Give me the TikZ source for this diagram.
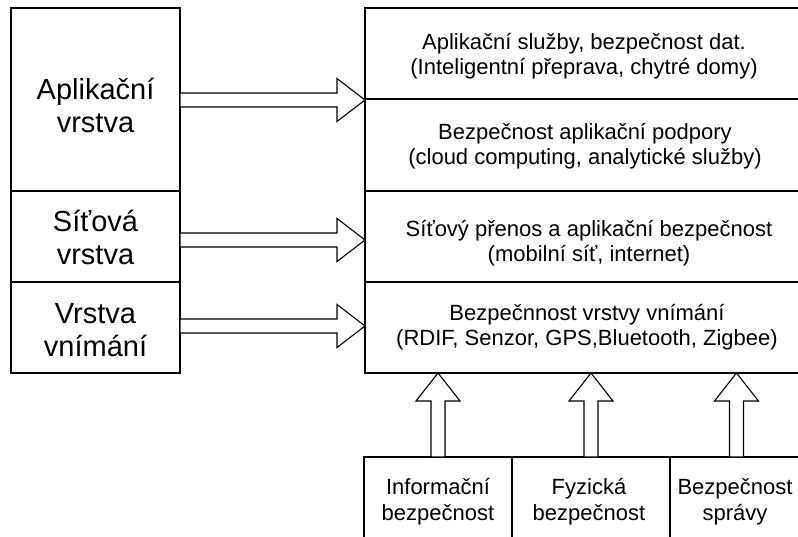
\documentclass[tikz,border=0pt]{standalone}
\usepackage{fontspec}
\setmainfont{Liberation Sans}
\usetikzlibrary{calc}
\newcommand\rarrow[3]{\draw[blk] let \p1=(#1.east), \p2=(#2.west) in
  (\x1,\y1+#3+7) -- (\x2-28,\y1+#3+7) -- (\x2-28,\y1+#3+21.5) -- (\x2,\y1+#3)
  -- (\x2-28,\y1+#3-21.5) -- (\x2-28,\y1+#3-7) -- (\x1,\y1+#3-7) -- cycle;}
\begin{document}
\begin{tikzpicture}[x=1pt,y=-1pt,line width=1.1pt,
  box/.style={draw,inner sep=0pt,outer sep=0pt},
  blk/.style={draw,fill=white,line width=1.1pt,line join=miter},
  big/.style={align=center,anchor=base,font=\fontsize{29}{33.2}\selectfont},
  small/.style={align=center,anchor=base,font=\fontsize{22}{25.3}\selectfont}]
\useasboundingbox (0,0) rectangle (798,537);
\clip (0,0) rectangle (798,537);
% left column
\node[box,minimum width=169,minimum height=183] (lapp) at (95.5,99.5) {};
\node[box,minimum width=169,minimum height=91] (lnet) at (95.5,236.5) {};
\node[box,minimum width=169,minimum height=91] (lper) at (95.5,327.5) {};
% right column
\node[box,minimum width=442,minimum height=91] (r1) at (586,53.5) {};
\node[box,minimum width=442,minimum height=92] (r2) at (586,145) {};
\node[box,minimum width=442,minimum height=91] (r3) at (586,236.5) {};
\node[box,minimum width=442,minimum height=91] (r4) at (586,327.5) {};
% bottom row
\node[box,minimum width=148,minimum height=103] (b1) at (438,508.5) {};
\node[box,minimum width=158,minimum height=103] (b2) at (591,508.5) {};
\node[box,minimum width=133,minimum height=103] (b3) at (736.5,508.5) {};
% texts (base anchor = baseline of last line)
\node[big] (lappT) at (95.5,132.7) {Aplikační\\vrstva};
\node[big] (lnetT) at (95.5,265) {Síťová\\vrstva};
\node[big] (lperT) at (95.5,356.7) {Vrstva\\vnímání};
\node[small] (r1T) at (584,74.8) {Aplikační služby, bezpečnost dat.\\(Inteligentní přeprava, chytré domy)};
\node[small] (r2T) at (585,164.5) {Bezpečnost aplikační podpory\\(cloud computing, analytické služby)};
\node[small] (r3T) at (589,262) {Síťový přenos a aplikační bezpečnost\\(mobilní síť, internet)};
\node[small] (r4T) at (587,345.5) {Bezpečnnost vrstvy vnímání\\(RDIF, Senzor, GPS,Bluetooth, Zigbee)};
\node[small] (b1T) at (438,520) {Informační\\bezpečnost};
\node[small] (b2T) at (589,520) {Fyzická\\bezpečnost};
\node[small] (b3T) at (735,520) {Bezpečnost\\správy};
% horizontal block arrows
\rarrow{lapp}{r1}{-0.5}
\rarrow{lnet}{r3}{-3.5}
\rarrow{lper}{r4}{1.5}
% vertical block arrows
\foreach \b in {b1,b2,b3}{
  \draw[blk] let \p1=(\b.north), \p2=(r4.south) in
    (\x1-7,\y1) -- (\x1-7,\y2-28) -- (\x1-22,\y2-28) -- (\x1,\y2)
    -- (\x1+22,\y2-28) -- (\x1+7,\y2-28) -- (\x1+7,\y1) -- cycle;
}
\end{tikzpicture}
\end{document}
